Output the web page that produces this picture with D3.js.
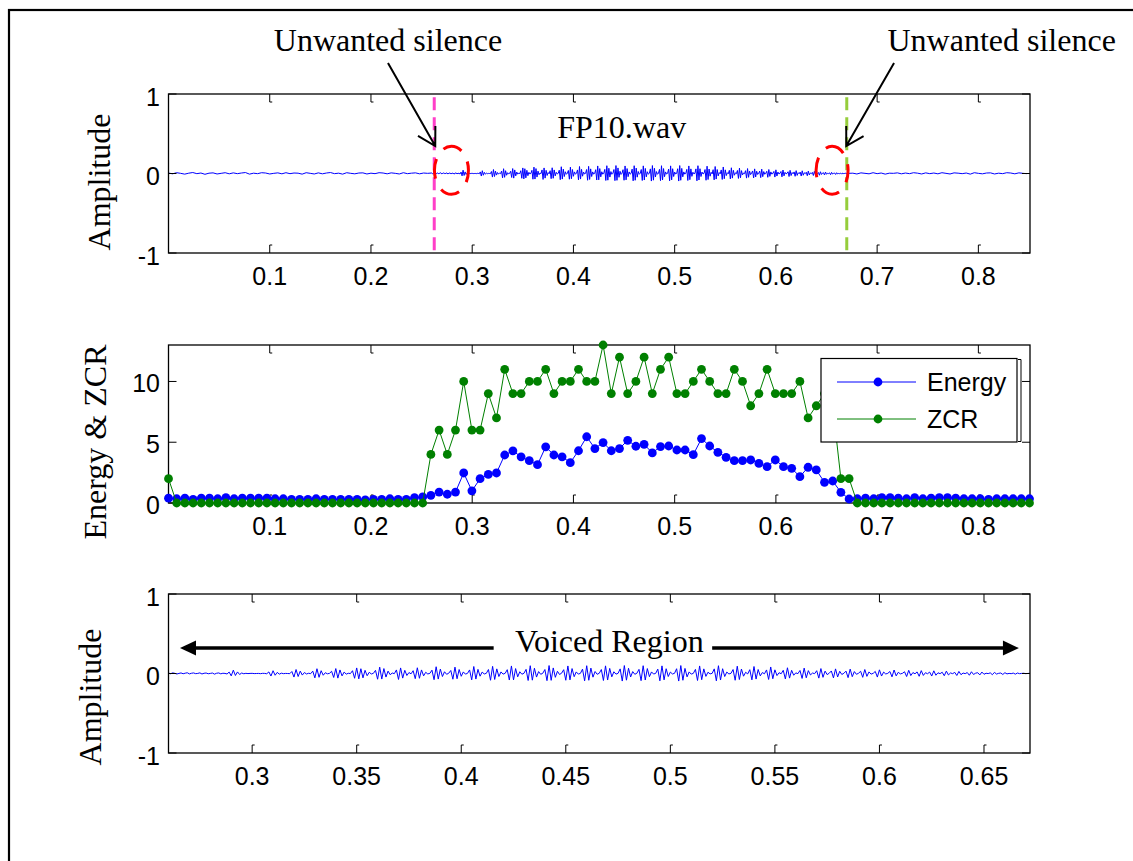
<!DOCTYPE html>
<html>
<head>
<meta charset="utf-8">
<script src="https://cdn.jsdelivr.net/npm/d3@7"></script>
<style>
  body { margin: 0; background: #fff; }
  svg { display: block; }
</style>
</head>
<body>
<svg id="fig" width="1133" height="861"></svg>
<script>
// ---------------- data ----------------
// short-time analysis: one frame every 8.1 ms
const frameHop = 0.0081;

// short-time energy per frame
const energy = [
  0.4, 0.35, 0.4, 0.3, 0.4, 0.4, 0.35, 0.45, 0.35, 0.4,
  0.4, 0.4, 0.4, 0.35, 0.35, 0.3, 0.3, 0.3, 0.35, 0.3,
  0.3, 0.3, 0.3, 0.3, 0.25, 0.3, 0.3, 0.35, 0.3, 0.3,
  0.45, 0.5,
  0.63, 0.9, 0.72, 0.9, 2.47, 1.0, 2.0, 2.35, 2.47, 3.95,
  4.29, 3.8, 3.48, 3.15, 4.62, 3.95,
  3.8, 3.32, 4.3, 5.45, 4.48, 4.97, 4.3, 4.48, 5.16, 4.67,
  4.83, 4.12, 4.64, 4.69, 4.36, 4.36, 3.98, 5.3, 4.69, 4.17,
  3.76, 3.48, 3.48, 3.54, 3.26, 2.99, 3.54, 2.99, 2.85, 2.17,
  2.94, 2.72, 1.7, 1.81, 0.88, 0.33,
  0.35, 0.4, 0.35, 0.45, 0.45, 0.4, 0.35, 0.45, 0.35, 0.4,
  0.45, 0.45, 0.4, 0.35, 0.35, 0.35, 0.3, 0.35, 0.35, 0.35,
  0.35, 0.35
];

// zero-crossing count per frame
const zcr = [
  2,
  0, 0, 0, 0, 0, 0, 0, 0, 0, 0, 0, 0, 0, 0, 0, 0,
  0, 0, 0, 0, 0, 0, 0, 0, 0, 0, 0, 0, 0, 0, 0,
  4, 6, 4, 6, 10, 6, 6, 9, 7, 11, 9, 9, 10, 10, 11, 9,
  10, 10, 11, 10, 10, 13, 9, 12, 9, 10, 12, 9, 11, 12, 9, 9,
  10, 11, 10, 9, 9, 11, 10, 8, 9, 11, 9, 9, 9, 10, 7, 8,
  9, 8, 2, 2,
  0, 0, 0, 0, 0, 0, 0, 0, 0, 0, 0,
  0, 0, 0, 0, 0, 0, 0, 0, 0, 0, 0
];

// waveform samples, in thousandths of full scale
const ampUnit = 0.001;

// leading silence: 0 s onward, one value every 4 ms
const headStart = 0, headStep = 0.004;
const waveHead = [
  6, -4, 10, 2, -8, 4, 12, -2, 6, -10,
  4, 8, -6, 2, 10, -4, 8, -2, 6, 12,
  -8, 4, -2, 10, 6, -6, 2, 8, -4, 10,
  -2, 6, 4, -8, 10, 2, -6, 8, -4, 6,
  12, -2, 4, -8, 10, 2, -4, 6, 8, -6,
  4, -2, 10, 6, -4, 8, 2, -6, 10, -2,
  4, 8, -4, 6, 2
];

// speech segment: 0.260 s onward, one value every 1 ms
const voicedStart = 0.26, voicedStep = 0.001;
const waveVoiced = [
  6, -3, 8, 2, -6, 1, 7, -3, 4, 9,
  -5, 3, 7, -2, 1, 8, -6, 3, 6, -3,
  1, 6, -8, 3, 7, -4, 3, 1, -6, 18,
  -30, 42, -25, 20, -12, 6, -3, 2, -1, 1,
  2, -1, 0, 1, -2, 2, 1, -3, 20, -32,
  35, -22, 14, -8, 4, -2, 1, 0, -2, 25,
  -45, 50, -38, 30, -20, 12, -6, 3, -2, 30,
  -55, 60, -48, 35, -22, 10, -4, 2, 28, -50,
  62, -58, 45, -30, 18, -8, 3, -1, 35, -60,
  70, -68, 60, -55, 40, -28, 15, -6, 2, 40,
  -72, 80, -70, 62, -45, 30, -15, 6, -2, 45,
  -75, 70, -58, 40, -25, 12, -4, 35, -65, 72,
  -60, 45, -30, 15, -6, 2, 42, -78, 85, -70,
  55, -38, 22, -10, 3, 38, -72, 80, -66, 50,
  -35, 20, -8, 2, 45, -80, 88, -70, 52, -34,
  18, -6, 2, 50, -85, 90, -75, 58, -38, 20,
  -8, 2, 48, -82, 95, -80, 62, -42, 22, -9,
  3, 52, -88, 98, -84, 66, -45, 24, -10, 3,
  50, -90, 100, -86, 70, -48, 28, -12, 4, 48,
  -85, 95, -80, 62, -40, 20, -8, 2, 55, -92,
  98, -85, 68, -46, 25, -10, 3, 50, -88, 96,
  -82, 64, -42, 22, -8, 2, 58, -95, 100, -84,
  66, -44, 24, -10, 3, 52, -90, 98, -82, 62,
  -40, 20, -7, 2, 55, -92, 96, -80, 60, -38,
  18, -6, 2, 60, -95, 100, -85, 64, -42, 20,
  -8, 2, 52, -88, 95, -78, 58, -36, 16, -5,
  2, 58, -92, 98, -82, 60, -38, 18, -6, 2,
  50, -85, 92, -76, 56, -34, 15, -5, 48, -80,
  88, -70, 50, -30, 12, -4, 45, -75, 82, -66,
  46, -26, 10, -3, 40, -68, 72, -58, 40, -22,
  8, -2, 38, -62, 68, -54, 36, -18, 6, -2,
  35, -58, 62, -48, 30, -14, 4, 32, -55, 58,
  -44, 28, -12, 3, 30, -52, 55, -40, 24, -10,
  3, 28, -48, 50, -36, 20, -8, 2, 26, -45,
  46, -32, 18, -6, 2, 25, -42, 44, -30, 15,
  -5, 2, 22, -38, 40, -26, 12, -4, 20, -35,
  36, -24, 10, -3, 18, -32, 34, -22, 9, -2,
  16, -28, 30, -18, 7, -2, 14, -25, 26, -15,
  6, -2, 12, -22, 22, -12, 4, 10, -18, 18,
  -10, 3, -1, 8, -15, 14, -7, 2, 6, -12,
  10, -5, 1, -2, 5, -8, 6, -2, 1, 3,
  -2, 1, 2
];

// trailing silence: 0.676 s onward, one value every 4 ms
const tailStart = 0.676, tailStep = 0.004;
const waveTail = [
  4, -6, 8, 2, -4, 10, -2, 6, -8, 4,
  2, 8, -4, 6, -2, 10, 4, -6, 8, -2,
  6, -4, 10, 2, -6, 8, 4, -2, 6, -8,
  10, 2, -4, 6, 8, -6, 4, -2, 10, 6,
  -4, 8, 2, -2
];

// detected speech boundaries (s)
const speechBegin = 0.2625;
const speechEnd = 0.67;

// axis ticks
const timeTicks = [0.1, 0.2, 0.3, 0.4, 0.5, 0.6, 0.7, 0.8];
const voicedTicks = [0.3, 0.35, 0.4, 0.45, 0.5, 0.55, 0.6, 0.65];
const ampTicks = [-1, 0, 1];
const featTicks = [0, 5, 10];

// text
const fileName = "FP10.wav";
const silenceNote = "Unwanted silence";
const voicedNote = "Voiced Region";
const seriesNames = ["Energy", "ZCR"];

// ---------------- drawing ----------------
const SERIF = "'Liberation Serif', 'Times New Roman', serif";
const SANS = "'Liberation Sans', Arial, Helvetica, sans-serif";
const BLUE = "#0000ff", GREEN = "#008000";

const svg = d3.select("#fig");

// figure border
svg.append("rect")
  .attr("x", 9).attr("y", 10).attr("width", 1300).attr("height", 1000)
  .attr("fill", "none").attr("stroke", "#000").attr("stroke-width", 2.2);

const L = 168.5, R = 1030;
const P1 = { top: 94, bottom: 253 };
const P2 = { top: 345, bottom: 503 };
const P3 = { top: 594, bottom: 753 };

const xFull = d3.scaleLinear().domain([0, 0.851]).range([L, R]);
const xVoiced = d3.scaleLinear().domain([0.26, 0.672]).range([L, R]);
const yAmp1 = d3.scaleLinear().domain([-1, 1]).range([P1.bottom, P1.top]);
const yFeat = d3.scaleLinear().domain([0, 13]).range([P2.bottom, P2.top]);
const yAmp3 = d3.scaleLinear().domain([-1, 1]).range([P3.bottom, P3.top]);

// sample lists -> [time, amplitude]
const toPoints = (arr, t0, dt) => arr.map((v, i) => [t0 + i * dt, v * ampUnit]);
const headPts = toPoints(waveHead, headStart, headStep);
const voicedPts = toPoints(waveVoiced, voicedStart, voicedStep);
const tailPts = toPoints(waveTail, tailStart, tailStep);
const fullPts = headPts.concat(voicedPts, tailPts);

function drawAxes(x, y, xTicks, yTicks, yLabelDy) {
  const [y0, y1] = y.range();   // bottom, top
  const g = svg.append("g");
  // x ticks, top and bottom, pointing inward
  xTicks.forEach(t => {
    const px = x(t);
    g.append("path").attr("d", `M${px},${y1}v8h2.5`)
      .attr("fill", "none").attr("stroke", "#000").attr("stroke-width", 1);
    g.append("path").attr("d", `M${px},${y0}v-8h2.5`)
      .attr("fill", "none").attr("stroke", "#000").attr("stroke-width", 1);
    g.append("text").attr("x", px).attr("y", y0 + 23)
      .attr("text-anchor", "middle").attr("dominant-baseline", "central")
      .attr("font-family", SANS).attr("font-size", 25)
      .text(String(t));
  });
  // y ticks, left and right
  yTicks.forEach(v => {
    const py = y(v);
    g.append("line").attr("x1", L).attr("x2", L + 8).attr("y1", py).attr("y2", py)
      .attr("stroke", "#000").attr("stroke-width", 1);
    g.append("line").attr("x1", R).attr("x2", R - 8).attr("y1", py).attr("y2", py)
      .attr("stroke", "#000").attr("stroke-width", 1);
    g.append("text").attr("x", L - 8.5).attr("y", py + yLabelDy)
      .attr("text-anchor", "end").attr("dominant-baseline", "central")
      .attr("font-family", SANS).attr("font-size", 25)
      .text(String(v));
  });
  // box
  g.append("rect").attr("x", L).attr("y", y1).attr("width", R - L).attr("height", y0 - y1)
    .attr("fill", "none").attr("stroke", "#000").attr("stroke-width", 1.3);
}

function yTitle(text, cx, cy) {
  svg.append("text")
    .attr("transform", `translate(${cx},${cy}) rotate(-90)`)
    .attr("text-anchor", "middle")
    .attr("font-family", SERIF).attr("font-size", 32)
    .text(text);
}

// ---------- panel 1: full recording ----------
const line1 = d3.line().x(d => xFull(d[0])).y(d => yAmp1(d[1]));
svg.append("path").datum(fullPts).attr("d", line1)
  .attr("fill", "none").attr("stroke", BLUE).attr("stroke-width", 1);

drawAxes(xFull, yAmp1, timeTicks, ampTicks, 2.5);
yTitle("Amplitude", 110, 182);

svg.append("text").attr("x", xFull(0.384)).attr("y", yAmp1(0.45))
  .attr("font-family", SERIF).attr("font-size", 32).text(fileName);

// boundary markers
[[speechBegin, "#ff3fc8"], [speechEnd, "#96cd3c"]].forEach(([t, c]) => {
  svg.append("line")
    .attr("x1", xFull(t)).attr("x2", xFull(t))
    .attr("y1", yAmp1(0.96)).attr("y2", yAmp1(-1.03))
    .attr("stroke", c).attr("stroke-width", 3)
    .attr("stroke-dasharray", "13,7");
});

// dashed rings around the silent gaps
[[0.2795, 17], [0.6555, 16]].forEach(([t, rx]) => {
  svg.append("ellipse")
    .attr("cx", xFull(t)).attr("cy", yAmp1(0.04))
    .attr("rx", rx).attr("ry", 24)
    .attr("fill", "none").attr("stroke", "#ff0000").attr("stroke-width", 3)
    .attr("stroke-dasharray", "20,12")
    .attr("stroke-dashoffset", 8);
});

// callouts: [text x, arrow start, arrow tip] in data units
const callouts = [
  { tx: 0.2168, from: [0.2168, 1.39], to: [0.2635, 0.345] },
  { tx: 0.823, from: [0.7167, 1.39], to: [0.6695, 0.345] }
];
callouts.forEach(c => {
  svg.append("text").attr("x", xFull(c.tx)).attr("y", yAmp1(1.535))
    .attr("text-anchor", "middle").attr("font-family", SERIF).attr("font-size", 32)
    .text(silenceNote);
  const x0 = xFull(c.from[0]), y0 = yAmp1(c.from[1]);
  const x1 = xFull(c.to[0]), y1 = yAmp1(c.to[1]);
  const ang = Math.atan2(y0 - y1, x0 - x1);
  const len = 20, spread = Math.PI / 6;
  const w1 = [x1 + len * Math.cos(ang + spread), y1 + len * Math.sin(ang + spread)];
  const w2 = [x1 + len * Math.cos(ang - spread), y1 + len * Math.sin(ang - spread)];
  svg.append("path")
    .attr("d", `M${x0},${y0}L${x1},${y1}M${w1[0]},${w1[1]}L${x1},${y1}L${w2[0]},${w2[1]}`)
    .attr("fill", "none").attr("stroke", "#000").attr("stroke-width", 2);
});

// ---------- panel 2: energy and ZCR ----------
const frames = energy.map((e, i) => ({ t: i * frameHop, e: e, z: zcr[i] }));
const series = [
  { key: "e", color: BLUE },
  { key: "z", color: GREEN }
];
drawAxes(xFull, yFeat, timeTicks, featTicks, 1.5);
series.forEach(s => {
  const ln = d3.line().x(d => xFull(d.t)).y(d => yFeat(d[s.key]));
  svg.append("path").datum(frames).attr("d", ln)
    .attr("fill", "none").attr("stroke", s.color).attr("stroke-width", 1);
  svg.append("g").selectAll("circle").data(frames).join("circle")
    .attr("cx", d => xFull(d.t)).attr("cy", d => yFeat(d[s.key]))
    .attr("r", 4.4).attr("fill", s.color);
});
yTitle("Energy & ZCR", 106, 442);

// legend
const lg = svg.append("g").attr("transform", "translate(821,358.5)");
lg.append("rect").attr("width", 196).attr("height", 83.5)
  .attr("fill", "#fff").attr("stroke", "#000").attr("stroke-width", 1.2);
lg.append("path").attr("d", "M197,1h3v82h-3")
  .attr("fill", "none").attr("stroke", "#000").attr("stroke-width", 1);
seriesNames.forEach((name, i) => {
  const yy = 23.5 + i * 37;
  lg.append("line").attr("x1", 16).attr("x2", 95).attr("y1", yy).attr("y2", yy)
    .attr("stroke", series[i].color).attr("stroke-width", 1);
  lg.append("circle").attr("cx", 57).attr("cy", yy).attr("r", 4.4).attr("fill", series[i].color);
  lg.append("text").attr("x", 106).attr("y", yy).attr("dominant-baseline", "central")
    .attr("font-family", SANS).attr("font-size", 25).text(name);
});

// ---------- panel 3: speech segment only ----------
svg.append("clipPath").attr("id", "clip3").append("rect")
  .attr("x", L).attr("y", P3.top).attr("width", R - L).attr("height", P3.bottom - P3.top);
const line3 = d3.line().x(d => xVoiced(d[0])).y(d => yAmp3(d[1]));
svg.append("path").datum(voicedPts).attr("d", line3).attr("clip-path", "url(#clip3)")
  .attr("fill", "none").attr("stroke", BLUE).attr("stroke-width", 1);
drawAxes(xVoiced, yAmp3, voicedTicks, ampTicks, 2.5);
yTitle("Amplitude", 101, 697);

// double-headed span arrow with caption
const spanY = yAmp3(0.32);
const spanParts = [
  { tip: 0.2655, tail: 0.4155 },
  { tip: 0.6667, tail: 0.52 }
];
spanParts.forEach(p => {
  const xt = xVoiced(p.tip), xs = xVoiced(p.tail);
  const dir = Math.sign(xt - xs);
  svg.append("line").attr("x1", xs).attr("x2", xt - dir * 10).attr("y1", spanY).attr("y2", spanY)
    .attr("stroke", "#000").attr("stroke-width", 3.5);
  svg.append("path")
    .attr("d", `M${xt},${spanY}L${xt - dir * 16},${spanY - 7.5}L${xt - dir * 16},${spanY + 7.5}Z`)
    .attr("fill", "#000");
});
svg.append("text").attr("x", xVoiced(0.4708)).attr("y", yAmp3(0.27))
  .attr("text-anchor", "middle").attr("font-family", SERIF).attr("font-size", 32)
  .text(voicedNote);
</script>
</body>
</html>
